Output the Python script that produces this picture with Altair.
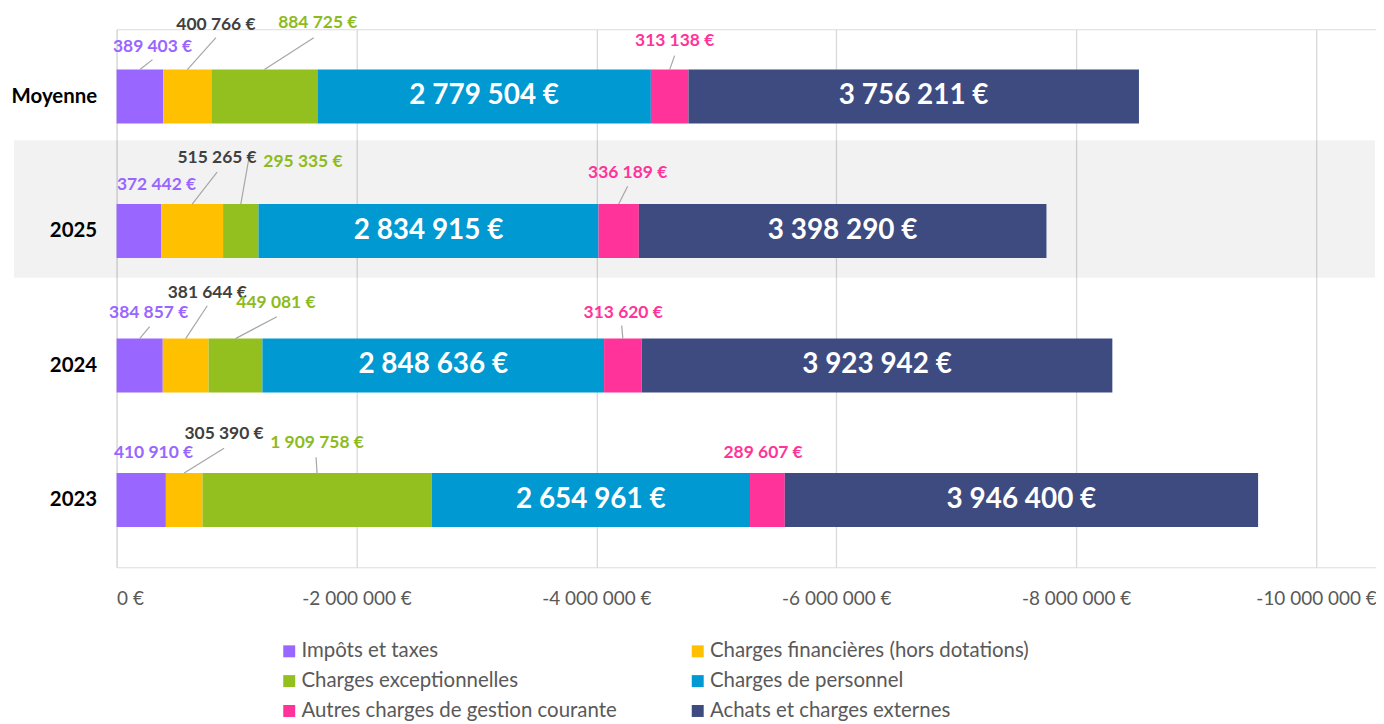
import json
import altair as alt
import pandas as pd

# ---------------- data ----------------
categories = ["Moyenne", "2025", "2024", "2023"]
series = [
    "Impôts et taxes",
    "Charges financières (hors dotations)",
    "Charges exceptionnelles",
    "Charges de personnel",
    "Autres charges de gestion courante",
    "Achats et charges externes",
]
impots = [389403, 372442, 384857, 410910]
financieres = [400766, 515265, 381644, 305390]
exceptionnelles = [884725, 295335, 449081, 1909758]
personnel = [2779504, 2834915, 2848636, 2654961]
autres = [313138, 336189, 313620, 289607]
achats = [3756211, 3398290, 3923942, 3946400]
tick_values = [0, -2000000, -4000000, -6000000, -8000000, -10000000]

# ---------------- style ----------------
bar_colors = ["#9966FF", "#FFC000", "#93C01F", "#0099D1", "#FF3399", "#3D4B80"]
label_colors = ["#9966FF", "#404040", "#8DBB1C", "#FFFFFF", "#FF3399", "#FFFFFF"]
legend_order = [0, 2, 4, 1, 3, 5]   # legend fills column by column
big_series = [3, 5]                 # labels drawn inside the bar
FONT = "Lato"
W, H = 1264, 540
X_MIN = -10500000
ROW_PX = H / len(categories)
BAR_PX = 54
PX2VAL = X_MIN / W           # value change per pixel to the right
# per small label: (category idx, series idx, dx px, up px, leader end dx px, leader end up px | None)
label_layout = [
    (0, 0, 12.6, 50, 12.6, 37), (0, 1, 28.7, 72, 28.7, 59),
    (0, 2, 53.5, 74, 49.5, 59), (0, 4, 5, 56, 5, 41),
    (1, 0, 17.6, 46, None, None), (1, 1, 25, 73, 25, 59),
    (1, 2, 62.4, 69, 8.5, 75), (1, 4, 9, 58, 9, 45),
    (2, 0, 9, 53, 10, 39), (2, 1, 21.7, 73, 21.7, 60),
    (2, 2, 40.6, 63, 41.6, 49), (2, 4, 0.3, 53, -1.2, 40),
    (3, 0, 12.3, 47, None, None), (3, 1, 40, 66, 40, 52),
    (3, 2, 0, 57, -1, 43), (3, 4, -4.3, 47, None, None),
]
band_row, band_up_px, band_down_px = 1, 91, 47


def fmt(v):
    return f"{v:,}".replace(",", " ") + " €"


values_by_series = [impots, financieres, exceptionnelles, personnel, autres, achats]
recs = []
for i, cat in enumerate(categories):
    cum = 0
    for j, s in enumerate(series):
        v = values_by_series[j][i]
        start = -cum
        cum += v
        end = -cum
        recs.append(dict(cat=cat, row=i, series=s, sidx=j, value=v, start=start,
                         end=end, mid=(start + end) / 2, text=fmt(v),
                         lcolor=label_colors[j]))
df = pd.DataFrame(recs)

lab = []
lead = []
for (ci, si, dx, up, ldx, lup) in label_layout:
    r = df[(df.row == ci) & (df.sidx == si)].iloc[0]
    lab.append(dict(x=r.mid + dx * PX2VAL, y=ci - up / ROW_PX, text=r.text, lcolor=r.lcolor))
    if ldx is not None:
        lead.append(dict(x=r.mid, y=ci - (BAR_PX / 2) / ROW_PX,
                         x2=r.mid + ldx * PX2VAL, y2=ci - lup / ROW_PX))
lab_df = pd.DataFrame(lab)
lead_df = pd.DataFrame(lead)
band_df = pd.DataFrame([dict(y=band_row - band_up_px / ROW_PX, y2=band_row + band_down_px / ROW_PX)])
big_df = df[df.sidx.isin(big_series)]

xscale = alt.Scale(domain=[0, X_MIN], nice=False, zero=False, padding=0)
yscale = alt.Scale(domain=[len(categories) - 0.5, -0.5], nice=False, zero=False, padding=0)

x_label_expr = "(datum.value < 0 ? '-' : '') + replace(format(abs(datum.value), ',d'), /,/g, ' ') + ' €'"
y_label_expr = json.dumps(categories) + "[datum.value]"

xaxis = alt.Axis(values=tick_values, labelExpr=x_label_expr, grid=True, gridColor="#D9D9D9",
                 gridWidth=1.3, domain=False, ticks=False, labelFontSize=19, labelColor="#595959",
                 labelPadding=22, title=None, labelFont=FONT)
yaxis = alt.Axis(values=list(range(len(categories))), labelExpr=y_label_expr, grid=False,
                 domain=False, ticks=False, labelFontSize=20.5, labelFontWeight="bold",
                 labelColor="#000000", labelPadding=20, title=None, labelFont=FONT)

band = alt.Chart(band_df).mark_rect(fill="#000000", opacity=0.05).encode(
    x=alt.value(-103), x2=alt.value(W - 1),
    y=alt.Y("y:Q", scale=yscale, axis=yaxis), y2="y2:Q",
)

bars = alt.Chart(df).mark_bar(size=BAR_PX, orient="horizontal").encode(
    x=alt.X("start:Q", scale=xscale, axis=xaxis),
    x2="end:Q",
    y=alt.Y("row:Q", scale=yscale, axis=yaxis),
    color=alt.Color("series:N",
                    scale=alt.Scale(domain=[series[k] for k in legend_order],
                                    range=[bar_colors[k] for k in legend_order]),
                    legend=alt.Legend(orient="none", legendX=163, legendY=614, columns=2,
                                      title=None, symbolType="square", symbolSize=144,
                                      symbolStrokeWidth=0, labelFontSize=20.5, labelFont=FONT,
                                      labelColor="#595959", columnPadding=70, rowPadding=9,
                                      labelLimit=600, labelOffset=2)),
)

big_labels = alt.Chart(big_df).mark_text(font=FONT, fontSize=28, fontWeight="bold",
                                         baseline="middle", align="center").encode(
    x=alt.X("mid:Q", scale=xscale), y=alt.Y("row:Q", scale=yscale),
    text="text:N", color=alt.Color("lcolor:N", scale=None),
)

leaders = alt.Chart(lead_df).mark_rule(color="#A6A6A6", strokeWidth=1.2).encode(
    x=alt.X("x:Q", scale=xscale), y=alt.Y("y:Q", scale=yscale), x2="x2:Q", y2="y2:Q",
)

small_labels = alt.Chart(lab_df).mark_text(font=FONT, fontSize=17.5, fontWeight="bold",
                                           baseline="middle", align="center").encode(
    x=alt.X("x:Q", scale=xscale), y=alt.Y("y:Q", scale=yscale),
    text="text:N", color=alt.Color("lcolor:N", scale=None),
)

chart = alt.layer(band, bars, big_labels, leaders, small_labels).properties(
    width=W, height=H,
    autosize=alt.AutoSizeParams(type="none"),
    padding={"left": 109, "top": 20, "right": 0, "bottom": 156},
).configure_view(stroke=None).configure(font=FONT)

chart.save("out.html", embed_options={"renderer": "svg", "actions": False})
